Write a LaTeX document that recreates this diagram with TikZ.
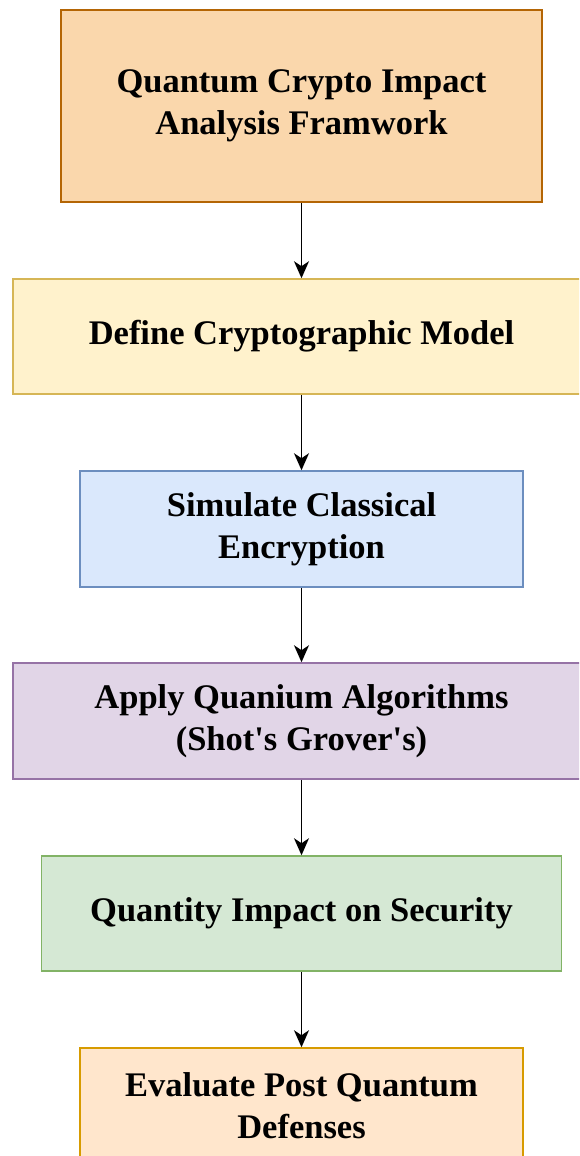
\documentclass[tikz,border=0pt]{standalone}
\usepackage{fontspec}
\setmainfont{Liberation Serif}
\usetikzlibrary{arrows.meta}

\definecolor{orangefill}{HTML}{FAD7AC}
\definecolor{orangeline}{HTML}{B46504}
\definecolor{yellowfill}{HTML}{FFF2CC}
\definecolor{yellowline}{HTML}{D6B656}
\definecolor{bluefill}{HTML}{DAE8FC}
\definecolor{blueline}{HTML}{6C8EBF}
\definecolor{purplefill}{HTML}{E1D5E7}
\definecolor{purpleline}{HTML}{9673A6}
\definecolor{greenfill}{HTML}{D5E8D4}
\definecolor{greenline}{HTML}{82B366}
\definecolor{peachfill}{HTML}{FFE6CC}
\definecolor{peachline}{HTML}{D79B00}

\tikzset{
  stagebox/.style={draw, line width=1.5pt, rectangle, align=center,
    inner sep=0pt, font=\fontsize{34.5}{42}\selectfont\bfseries},
  flowarrow/.style={-{Stealth[length=17pt, width=15pt, inset=5pt]}, line width=1.6pt}
}

\begin{document}
\begin{tikzpicture}[x=1pt, y=-1pt]
				\useasboundingbox (0,0) rectangle (579,1156);
				\clip (0,0) rectangle (579,1156);
				
				\node[stagebox, fill=orangefill, draw=orangeline, minimum width=481pt, minimum height=192pt] (frame) at (301.5, 106) {Quantum Crypto Impact\\Analysis Framwork};
				
				\node[stagebox, fill=yellowfill, draw=yellowline, minimum width=577pt, minimum height=115pt] (model) at (301.5, 336.5) {Define Cryptographic Model};
				
				\node[stagebox, fill=bluefill, draw=blueline, minimum width=443pt, minimum height=116pt] (classic) at (301.5, 529) {Simulate Classical\\Encryption};
				
				\node[stagebox, fill=purplefill, draw=purpleline, minimum width=577pt, minimum height=116pt] (algo) at (301.5, 721) {Apply Quanium Algorithms\\(Shot\textquotesingle s Grover\textquotesingle s)};
				
				\node[stagebox, fill=greenfill, draw=greenline, minimum width=520pt, minimum height=115pt] (impact) at (301.5, 913.5) {Quantity Impact on Security};
				
				\node[stagebox, fill=peachfill, draw=peachline, minimum width=443pt, minimum height=116pt] (defense) at (301.5, 1106) {Evaluate Post Quantum\\Defenses};
				
				\draw[flowarrow] (frame) -- (model);
				\draw[flowarrow] (model) -- (classic);
				\draw[flowarrow] (classic) -- (algo);
				\draw[flowarrow] (algo) -- (impact);
				\draw[flowarrow] (impact) -- (defense);
			\end{tikzpicture}
\end{document}
